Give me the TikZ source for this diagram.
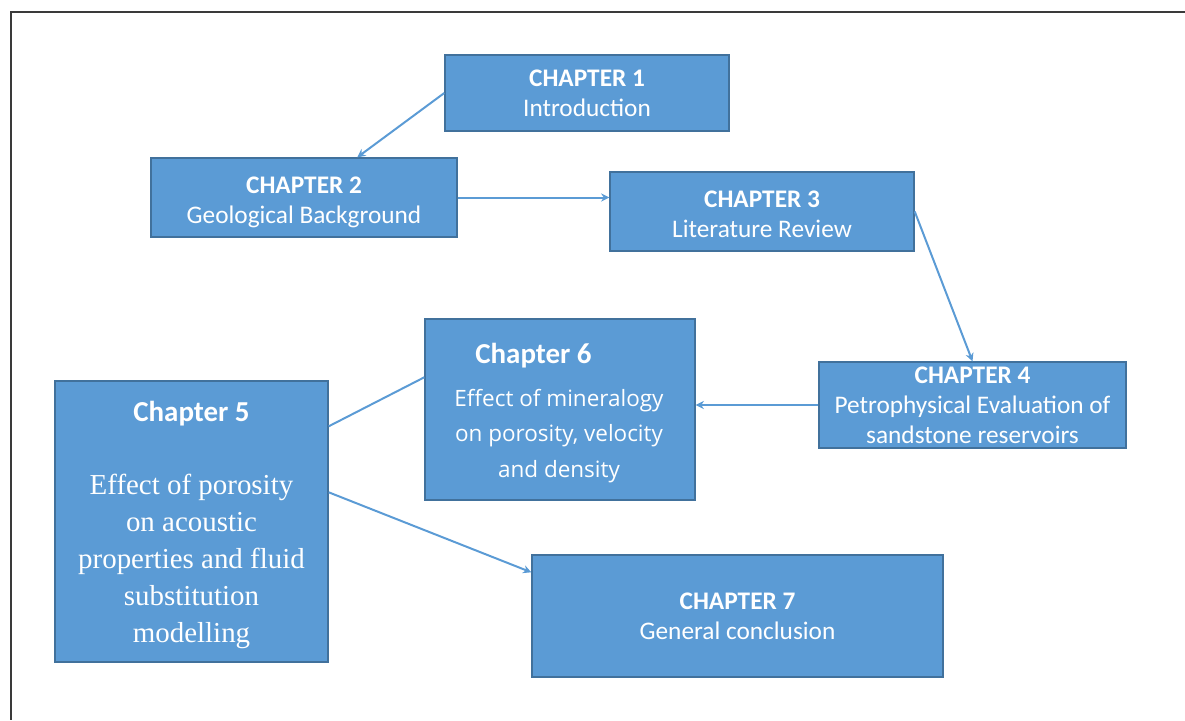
\documentclass[tikz,border=0pt]{standalone}
\usepackage{fontspec}
\setmainfont{Carlito}
\newfontfamily\serifx{Liberation Serif}
\newfontfamily\opensans{Open Sans}
\usetikzlibrary{arrows.meta,calc}
\definecolor{boxfill}{HTML}{5B9BD5}
\definecolor{boxline}{HTML}{41719C}
\definecolor{framec}{HTML}{3A3A3A}
\newcommand{\lowstrut}[1]{\rule{0pt}{#1}}
\tikzset{
  chap/.style={draw=boxline, fill=boxfill, line width=1.2pt, text=white, align=center,
    inner sep=0pt, font=\fontsize{21.6}{25.6}\selectfont},
  conn/.style={draw=boxfill, line width=1.7pt},
  arr/.style={conn, -{Stealth[length=7pt,width=7pt]}},
  lbl/.style={text=white, align=center, inner sep=0pt},
  headfont/.style={font=\fontsize{24.7}{29}\selectfont\bfseries},
}
\begin{document}
\begin{tikzpicture}[x=0.03cm,y=-0.03cm]
\useasboundingbox (0,0) rectangle (1185,720);
\draw[framec, line width=1.7pt] (1185,12) -- (11,12) -- (11,720);

\node[chap, minimum width=8.52cm, minimum height=2.28cm] (c1) at (587,93)
  {\textbf{CHAPTER 1}\\Introduction};
\node[chap, minimum width=9.18cm, minimum height=2.37cm] (c2) at (304,197.5)
  {\lowstrut{22pt}\textbf{CHAPTER 2}\\Geological Background};
\node[chap, minimum width=9.12cm, minimum height=2.37cm] (c3) at (762,211.5)
  {\lowstrut{19pt}\textbf{CHAPTER 3}\\Literature Review};
\node[chap, minimum width=9.21cm, minimum height=2.58cm] (c4) at (972.5,405)
  {\textbf{CHAPTER 4}\\Petrophysical Evaluation of\\sandstone reservoirs};
\node[chap, minimum width=8.1cm, minimum height=5.43cm] (c6) at (560,409.5) {};
\node[chap, minimum width=8.19cm, minimum height=8.43cm] (c5) at (191.5,521.5) {};
\node[chap, minimum width=12.33cm, minimum height=3.66cm] (c7) at (737.5,616)
  {\textbf{CHAPTER 7}\\General conclusion};

\node[lbl, headfont, anchor=base] (c6h) at (533.5,363) {Chapter 6};
\node[lbl, anchor=base, font=\opensans\fontsize{19.2}{29.9}\selectfont] (c6b) at (559,477)
  {Effect of mineralogy\\on porosity, velocity\\and density};
\node[lbl, headfont, anchor=base] (c5h) at (191.5,421) {Chapter 5};
\node[lbl, anchor=base, font=\serifx\fontsize{24.7}{31.4}\selectfont] (c5b) at (191.5,642)
  {Effect of porosity\\on acoustic\\properties and fluid\\substitution\\modelling};

\draw[arr] (c1.west) -- ($(c2.north west)+(207,0)$);
\draw[arr] (c2.east) -- (c3.west |- c2.east);
\draw[arr] (c3.east) -- (c4.north);
\draw[arr] (c4.west) -- (c6.east |- c4.west);
\draw[conn] ($(c5.north east)+(0,46)$) -- ($(c6.north west)+(0,59)$);
\draw[arr] ($(c5.north east)+(0,112)$) -- ($(c7.north west)+(0,18)$);
\end{tikzpicture}
\end{document}
